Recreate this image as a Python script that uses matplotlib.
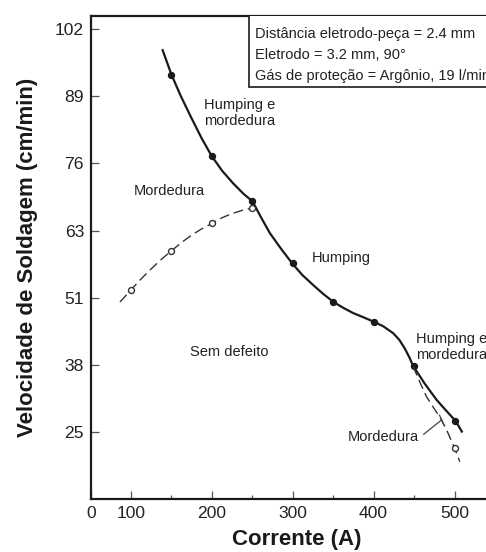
import matplotlib
matplotlib.use("Agg")
import matplotlib.pyplot as plt
from matplotlib.patches import Rectangle

plt.rcParams['font.family'] = ['Liberation Sans', 'DejaVu Sans']

# ---- data ----
# solid curve (traced) and its filled markers
solid_x = [139.5, 150.6, 162.0, 175.0, 187.5, 200.0, 213.0, 226.7, 239.0, 250.6,
           261.0, 272.0, 286.0, 299.5, 312.0, 325.4, 338.0, 350.4, 362.5, 374.8,
           387.5, 399.8, 412.0, 424.2, 432.0, 438.6, 444.0, 448.9, 463.0, 477.8,
           490.0, 501.4, 509.0]
solid_y = [97.6, 92.9, 88.9, 84.8, 81.0, 77.6, 74.8, 72.4, 70.5, 69.0,
           66.0, 63.0, 60.0, 57.3, 55.1, 53.2, 51.5, 50.0, 48.9, 47.9,
           47.1, 46.3, 45.4, 44.1, 42.8, 41.2, 39.6, 37.9, 34.6, 31.5,
           29.4, 27.5, 25.5]
filled_x = [150, 200, 250, 300, 350, 400, 450, 500]
filled_y = [92.9, 77.6, 69.0, 57.3, 50.0, 46.3, 37.9, 27.5]

# dashed curve, left branch (traced) and open markers
dash_left_x = [86.8, 100.0, 112.5, 125.0, 137.5, 149.8, 162.5, 175.0, 187.5,
               201.2, 212.5, 225.0, 237.5, 249.4]
dash_left_y = [50.0, 52.2, 54.3, 56.2, 58.0, 59.6, 61.2, 62.6, 63.8,
               64.9, 65.9, 66.7, 67.3, 67.7]
open_left_x = [100, 150, 200, 250]
open_left_y = [52.2, 59.6, 64.9, 67.7]

# dashed curve, right branch
dash_right_x = [448.9, 457.0, 465.4, 475.0, 484.0, 492.0, 500.0, 506.5]
dash_right_y = [37.8, 34.9, 32.1, 29.8, 27.7, 25.2, 22.4, 19.8]
open_right_x = [500]
open_right_y = [22.4]

# axis ticks
xtick_pos = [51, 100, 200, 300, 400, 500]
xtick_labels = ["0", "100", "200", "300", "400", "500"]
xminor_pos = [150, 250, 350, 450]
ytick_pos = [25.4, 38.1, 50.8, 63.5, 76.2, 88.9, 101.6]
ytick_labels = ["25", "38", "51", "63", "76", "89", "102"]

info_lines = ["Distância eletrodo-peça = 2.4 mm",
              "Eletrodo = 3.2 mm, 90°",
              "Gás de proteção = Argônio, 19 l/min"]

fig = plt.figure(figsize=(4.86, 5.52), dpi=100)
ax = fig.add_axes([0.1872, 0.0960, 0.848, 0.8759])
ax.set_xlim(51, 560)
ax.set_ylim(12.75, 104.15)

ink = "#1a1a1a"
ax.plot(solid_x, solid_y, color=ink, lw=1.6, solid_joinstyle='round')
ax.plot(filled_x, filled_y, 'o', color=ink, ms=4.3)
ax.plot(dash_left_x, dash_left_y, color="#333333", lw=1.0, dashes=(7, 3.5))
ax.plot(open_left_x, open_left_y, 'o', mfc='white', mec="#333333", mew=1.0, ms=4.3)
ax.plot(dash_right_x, dash_right_y, color="#333333", lw=1.0, dashes=(7, 3.5))
ax.plot(open_right_x, open_right_y, 'o', mfc='white', mec="#333333", mew=1.0, ms=4.3)

fs = 10.5
tc = "#222222"
ax.text(190.5, 85.7, "Humping e\nmordedura", fontsize=fs, color=tc, ha='left', va='center', linespacing=1.25)
ax.text(104.2, 71.0, "Mordedura", fontsize=fs, color=tc, ha='left', va='center')
ax.text(323.8, 58.3, "Humping", fontsize=fs, color=tc, ha='left', va='center')
ax.text(173.2, 40.5, "Sem defeito", fontsize=fs, color=tc, ha='left', va='center')
ax.text(452.2, 41.5, "Humping e\nmordedura", fontsize=fs, color=tc, ha='left', va='center', linespacing=1.25)
ax.text(368.3, 24.5, "Mordedura", fontsize=fs, color=tc, ha='left', va='center')
ax.plot([462.0, 484.0], [25.0, 27.7], color="#444444", lw=0.9)
ax.plot([481.5, 486.5], [28.6, 26.8], color="#444444", lw=0.9)

# info box
ax.add_patch(Rectangle((246, 90.6), 400, 20, facecolor='white', edgecolor=ink, lw=1.2, zorder=3))
for i, line in enumerate(info_lines):
    ax.text(253.5, 100.65 - 4.0 * i, line, fontsize=fs, color=tc, ha='left', va='center', zorder=4)

# axes styling
ax.spines['right'].set_visible(False)
for s in ['left', 'bottom', 'top']:
    ax.spines[s].set_linewidth(1.6)
    ax.spines[s].set_color(ink)

ax.set_xticks(xtick_pos)
ax.set_xticklabels(xtick_labels)
ax.set_xticks(xminor_pos, minor=True)
ax.set_yticks(ytick_pos)
ax.set_yticklabels(ytick_labels)
ax.tick_params(axis='both', which='major', direction='in', length=6, width=0.9,
               labelsize=12.6, colors="#555555", labelcolor=tc, pad=5)
ax.tick_params(axis='x', which='minor', direction='in', length=3, width=0.9, colors="#555555")
ax.tick_params(top=False, right=False)

ax.set_xlabel("Corrente (A)", fontsize=16, fontweight='bold', color=ink, labelpad=6)
ax.set_ylabel("Velocidade de Soldagem (cm/min)", fontsize=16, fontweight='bold', color=ink, labelpad=12)

fig.savefig("out.png", dpi=100)
